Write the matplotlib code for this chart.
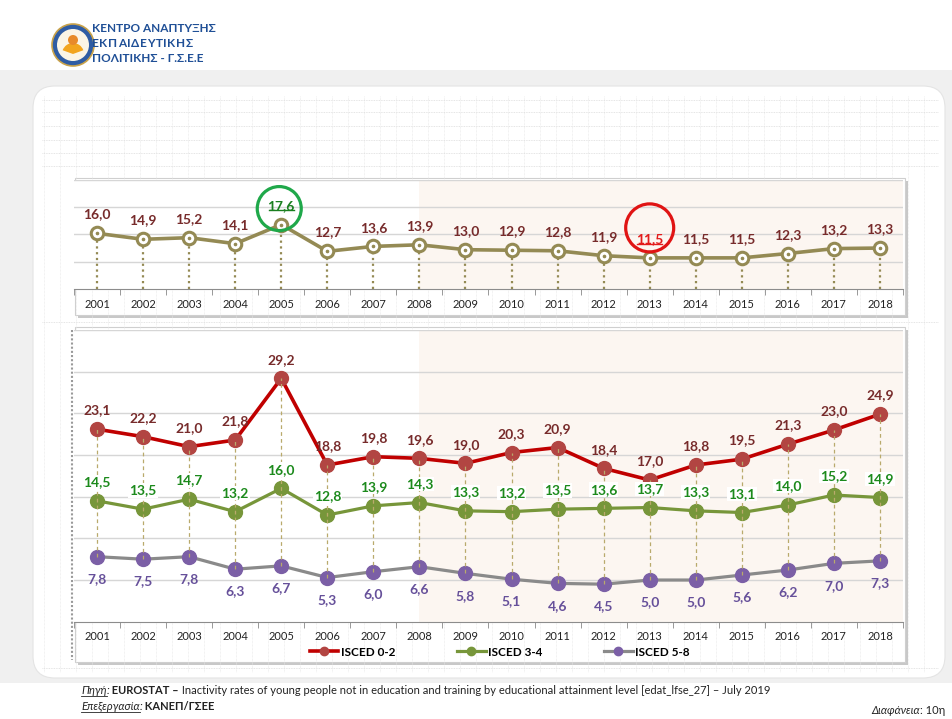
import matplotlib
matplotlib.use("Agg")
import matplotlib.pyplot as plt
from matplotlib.patches import Rectangle, FancyBboxPatch, Circle, Wedge
from matplotlib.lines import Line2D
from matplotlib.transforms import IdentityTransform

# ---- data -------------------------------------------------------------
years = ["2001", "2002", "2003", "2004", "2005", "2006", "2007", "2008", "2009",
         "2010", "2011", "2012", "2013", "2014", "2015", "2016", "2017", "2018"]
total = [16.0, 14.9, 15.2, 14.1, 17.6, 12.7, 13.6, 13.9, 13.0,
         12.9, 12.8, 11.9, 11.5, 11.5, 11.5, 12.3, 13.2, 13.3]
isced_02 = [23.1, 22.2, 21.0, 21.8, 29.2, 18.8, 19.8, 19.6, 19.0,
            20.3, 20.9, 18.4, 17.0, 18.8, 19.5, 21.3, 23.0, 24.9]
isced_34 = [14.5, 13.5, 14.7, 13.2, 16.0, 12.8, 13.9, 14.3, 13.3,
            13.2, 13.5, 13.6, 13.7, 13.3, 13.1, 14.0, 15.2, 14.9]
isced_58 = [7.8, 7.5, 7.8, 6.3, 6.7, 5.3, 6.0, 6.6, 5.8,
            5.1, 4.6, 4.5, 5.0, 5.0, 5.6, 6.2, 7.0, 7.3]
series_names = ["ISCED 0-2", "ISCED 3-4", "ISCED 5-8"]
peak_year = "2005"
low_year = "2013"
shade_from = "2008"

FONT = ["Lato", "DejaVu Sans"]
plt.rcParams["font.family"] = FONT

W, H = 953, 719
fig = plt.figure(figsize=(W / 100, H / 100), dpi=100, facecolor="white")
r = fig.canvas.get_renderer()

OLIVE = "#948a54"
MAROON = "#772b2b"
RED_LINE = "#c00000"
RED_MK = "#b24542"
GREEN = "#77963a"
GREEN_TXT = "#1c8a1c"
GREY = "#8a8a8a"
PURPLE = "#7b5fa6"
PURPLE_TXT = "#66509a"
SHADE = "#fcf6f1"


def fmt(v):
    return f"{v:.1f}".replace(".", ",")


# ---- background (pixel coordinates, y downwards) ----------------------
bg = fig.add_axes([0, 0, 1, 1], zorder=-5)
bg.set_xlim(0, W)
bg.set_ylim(H, 0)
bg.axis("off")
bg.add_patch(Rectangle((0, 70), W, 613, fc="#f0f0f0", ec="none"))
bg.add_patch(FancyBboxPatch((33, 86), 912, 592, boxstyle="round,pad=0,rounding_size=22",
                            fc="white", ec="#e4e4e4", lw=0.8))
for xx in range(44, 938, 16):
    bg.plot([xx, xx], [96, 672], color="#e6e6e6", lw=0.5, ls=(0, (1, 1)))
for yy in [100, 112, 126, 140, 153, 166, 322, 668]:
    bg.plot([42, 938], [yy, yy], color="#dcdcdc", lw=0.6, ls=(0, (1, 1)))

# chart frames with a soft shadow
for (x0, y0, x1, y1) in [(75, 178, 905, 315), (75, 327, 905, 662)]:
    bg.add_patch(Rectangle((x0 + 3, y0 + 3), x1 - x0, y1 - y0, fc="#c8c8c8", ec="none"))
    bg.add_patch(Rectangle((x0, y0), x1 - x0, y1 - y0, fc="white", ec="#cfcfcf", lw=0.8))
bg.plot([72, 72], [330, 660], color="#9a9a9a", lw=1.5, ls=(0, (1, 1)))

# logo
bg.add_patch(Circle((73, 45), 21, fc="#2f5ca3", ec="#c9a24a", lw=1.2))
bg.add_patch(Circle((73, 45), 16, fc="#fbf5e6", ec="none"))
bg.add_patch(Wedge((73, 54), 11, 200, 340, fc="#f2a51e", ec="none"))
bg.add_patch(Circle((73, 40), 5, fc="#e88a2a", ec="none"))
logo_blue = "#1f4f96"
bg.text(92, 29, "ΚΕΝΤΡΟ ΑΝΑΠΤΥΞΗΣ", fontsize=8.5, fontweight="bold", color=logo_blue,
        va="center", ha="left")
# letter-spaced middle line: place glyphs one after another with a fixed gap
lx = 92
for ch in "ΕΚΠΑΙΔΕΥΤΙΚΗΣ":
    t = fig.text(lx, H - 43.5, ch, transform=IdentityTransform(), fontsize=8.5,
                 fontweight="bold", color=logo_blue, va="center", ha="left")
    lx = t.get_window_extent(r).x1 + 0.6
bg.text(92, 58, "ΠΟΛΙΤΙΚΗΣ - Γ.Σ.Ε.Ε", fontsize=8.5, fontweight="bold", color=logo_blue,
        va="center", ha="left")

xs = list(range(len(years)))
x_shade = years.index(shade_from)


def style_axis(ax, ylim, grid, pad):
    ax.set_xlim(-0.5, len(years) - 0.5)
    ax.set_ylim(*ylim)
    ax.set_yticks(grid)
    ax.yaxis.grid(True, color="#d6d6d6", lw=1)
    ax.tick_params(axis="y", length=0, labelleft=False)
    ax.set_xticks(xs)
    ax.set_xticklabels(years, fontsize=8, color="#222222")
    ax.set_xticks([x - 0.5 for x in range(len(years) + 1)], minor=True)
    ax.tick_params(axis="x", which="major", length=0, pad=pad)
    ax.tick_params(axis="x", which="minor", length=4, color="#888888", direction="out")
    for s in ["top", "left", "right"]:
        ax.spines[s].set_visible(False)
    ax.spines["bottom"].set_color("#8c8c8c")
    ax.set_axisbelow(True)
    ax.axvspan(x_shade, len(years) - 0.5, color=SHADE, zorder=0, lw=0)


# ---- top chart ---------------------------------------------------------
ax1 = fig.add_axes([74 / W, 1 - 289 / H, 829 / W, 109.2 / H], facecolor="white")
style_axis(ax1, (5.8, 25.8), [10.8, 15.8, 20.8, 25.8], 7)
ax1.vlines(xs, 5.8, total, colors=OLIVE, lw=1.6, ls=(0, (1, 1.6)), zorder=2)
ax1.plot(xs, total, color=OLIVE, lw=2.6, zorder=3)
ax1.plot(xs, total, "o", ms=9, mfc="white", mec=OLIVE, mew=2.2, zorder=4)
ax1.plot(xs, total, "o", ms=1.6, color=OLIVE, zorder=5)

special = {}
for x, v in zip(xs, total):
    col = MAROON
    if years[x] == peak_year:
        col = "#1a7f1f"
    elif years[x] == low_year:
        col = "#e31b1b"
    t = ax1.annotate(fmt(v), (x, v), xytext=(0, 13.5), textcoords="offset points",
                     ha="center", va="center", fontsize=10, fontweight="bold", color=col, zorder=6)
    if years[x] in (peak_year, low_year):
        special[years[x]] = (t, col, x, v)

# ---- bottom chart ------------------------------------------------------
ax2 = fig.add_axes([74 / W, 1 - 621.7 / H, 829 / W, 291.7 / H], facecolor="white")
style_axis(ax2, (0, 35), [5, 10, 15, 20, 25, 30, 35], 7)
ax2.vlines(xs, isced_58, isced_02, colors="#b9aa6c", lw=0.9, ls=(0, (3, 2.5)), zorder=5)
ax2.plot(xs, isced_02, color=RED_LINE, lw=2.6, zorder=3, marker="o", ms=10,
         mfc=RED_MK, mec=RED_MK, label=series_names[0])
ax2.plot(xs, isced_34, color=GREEN, lw=2.3, zorder=3, marker="o", ms=10,
         mfc=GREEN, mec=GREEN, label=series_names[1])
ax2.plot(xs, isced_58, color=GREY, lw=2.3, zorder=3, marker="o", ms=10,
         mfc=PURPLE, mec=PURPLE, label=series_names[2])
for x in xs:
    ax2.annotate(fmt(isced_02[x]), (x, isced_02[x]), xytext=(0, 13.5), textcoords="offset points",
                 ha="center", va="center", fontsize=10, fontweight="bold", color=MAROON, zorder=6)
    ax2.annotate(fmt(isced_34[x]), (x, isced_34[x]), xytext=(0, 13.5), textcoords="offset points",
                 ha="center", va="center", fontsize=10, fontweight="bold", color=GREEN_TXT, zorder=6,
                 bbox=dict(fc="white", ec="none", pad=0.8))
    ax2.annotate(fmt(isced_58[x]), (x, isced_58[x]), xytext=(0, -16), textcoords="offset points",
                 ha="center", va="center", fontsize=10, fontweight="bold", color=PURPLE_TXT, zorder=6)

handles = [Line2D([], [], color=RED_LINE, lw=2.6, marker="o", ms=6, mfc=RED_MK, mec=RED_MK),
           Line2D([], [], color=GREEN, lw=2.3, marker="o", ms=6, mfc=GREEN, mec=GREEN),
           Line2D([], [], color=GREY, lw=2.3, marker="o", ms=6, mfc=PURPLE, mec=PURPLE)]
fig.legend(handles, series_names, loc="center", bbox_to_anchor=(0.5245, 1 - 652 / H), ncol=3,
           frameon=False, handlelength=2.4, handletextpad=0.2, columnspacing=5.25,
           prop={"family": FONT, "weight": "bold", "size": 8.5})

# ---- highlight circles and underlines ----------------------------------
fig.canvas.draw()
ring = {peak_year: ("#1fa84a", -2, 16, 22), low_year: ("#e01414", 0, 30, 24)}
for key, (t, col, x, v) in special.items():
    bb = t.get_window_extent(r)
    fig.add_artist(Line2D([bb.x0 + 1, bb.x1 - 1], [bb.y0 + 1.5, bb.y0 + 1.5], color=col, lw=1,
                          transform=IdentityTransform()))
    rc, dx, dy, rad = ring[key]
    px, py = ax1.transData.transform((x, v))
    fig.add_artist(Circle((px + dx, py + dy), rad, fill=False, ec=rc, lw=2.3,
                          transform=IdentityTransform(), zorder=10))


# ---- footer ------------------------------------------------------------
def put_runs(x, y, runs):
    for text, kw, ul in runs:
        t = fig.text(x, y, text, transform=IdentityTransform(), va="baseline", ha="left",
                     fontsize=8, color="#222222", **kw)
        bb = t.get_window_extent(r)
        if ul:
            fig.add_artist(Line2D([bb.x0, bb.x1], [y - 1.5, y - 1.5], color="#222222", lw=0.6,
                                  transform=IdentityTransform()))
        x = bb.x1


put_runs(81, H - 694, [("Πηγή", {"style": "italic"}, True), (":", {"style": "italic"}, False),
                       (" EUROSTAT –", {"weight": "bold"}, False),
                       (" Inactivity rates of young people not in education and training by educational "
                        "attainment level [edat_lfse_27] – July 2019", {}, False)])
put_runs(81, H - 710, [("Επεξεργασία", {"style": "italic"}, True), (":", {"style": "italic"}, False),
                       (" ΚΑΝΕΠ/ΓΣΕΕ", {"weight": "bold"}, False)])
t_end = fig.text(945, H - 714, ": 10η", transform=IdentityTransform(), va="baseline", ha="right",
                 fontsize=8, color="#222222")
bb = t_end.get_window_extent(r)
fig.text(bb.x0, H - 714, "Διαφάνεια", transform=IdentityTransform(), va="baseline", ha="right",
         fontsize=8, color="#222222", style="italic")

fig.savefig("out.png", dpi=100)
